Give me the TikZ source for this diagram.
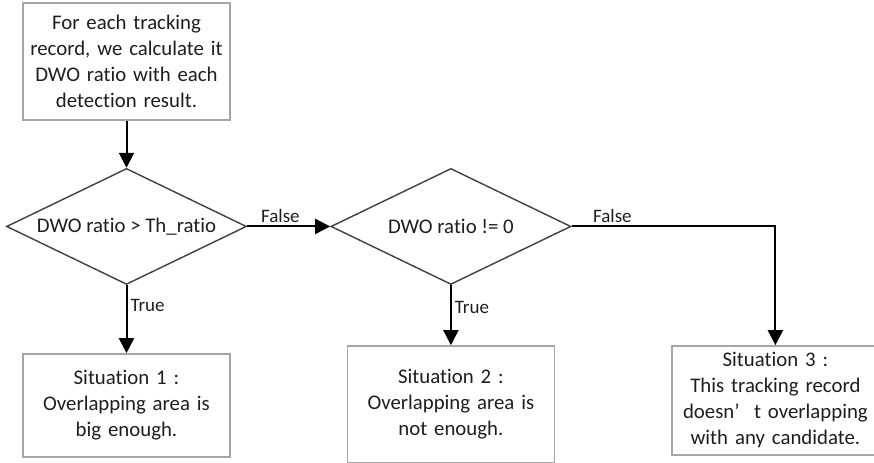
\documentclass[tikz,border=0pt]{standalone}
\usepackage{fontspec}
\setmainfont{Carlito}[Ligatures=NoCommon]
\usetikzlibrary{positioning, arrows.meta, shapes.geometric}
\definecolor{boxgray}{HTML}{A6A6A6}
\definecolor{linegray}{HTML}{404040}
\definecolor{textgray}{HTML}{1E1E1E}
\tikzset{main box/.style={rectangle, draw=boxgray, line width=0.75pt, fill=white, text=textgray, text width=103pt, align=center, minimum width=103.5pt, inner sep=0pt, font=\fontsize{10.4pt}{13pt}\selectfont},
	test node/.style={diamond, draw=linegray, line width=0.7pt, aspect=2.07, minimum width=120pt, minimum height=58pt, inner sep=0pt, text=textgray, font=\fontsize{10.4pt}{12pt}\selectfont},
	branch text/.style={text=textgray, inner sep=1.5pt, font=\fontsize{9.5pt}{11pt}\selectfont},}

\begin{document}
\begin{tikzpicture}[x=0.5pt, y=-0.5pt, -{Triangle[length=7.5pt, width=7.5pt]}, line width=1pt]
			\useasboundingbox (0,0) rectangle (874,462);
			% Boxes and tests
			\node[main box, minimum height=58.5pt] (record) at (126.5,61.5) {For each tracking\\ record, we calculate it\\ DWO ratio with each\\ detection result.};
			\node[test node] [below = 23.5pt of record] (ratio) {DWO ratio > Th\_ratio};
			\node[test node] [right = 41.5pt of ratio] (nonzero) {DWO ratio != 0};
			\node[main box, minimum height=51.5pt] [below = 34pt of ratio] (sit1) {Situation 1 :\\ Overlapping area is\\ big enough.};
			\node[main box, minimum height=58.5pt] [below = 30pt of nonzero] (sit2) {Situation 2 :\\ Overlapping area is\\ not enough.};
			\node[main box, minimum height=54.5pt] [right = 58pt of sit2.north east, anchor=north west] (sit3) {Situation 3 :\\ This tracking record\\ doesn’\hspace{0.7em}t overlapping\\ with any candidate.};
			% Arrows
			\path[draw]
			(record) edge (ratio)
			(ratio) edge node [branch text, above, pos=0.4] {False} (nonzero)
			(ratio) edge node [branch text, right, pos=0.3] {True} (sit1)
			(nonzero) edge node [branch text, right, pos=0.37] {True} (sit2);
			\draw (nonzero.east) -| node [branch text, above, pos=0.1] {False} (sit3.north);
		\end{tikzpicture}
\end{document}
